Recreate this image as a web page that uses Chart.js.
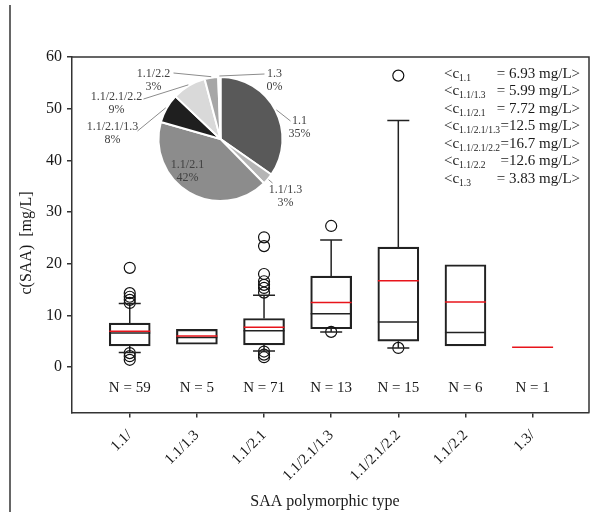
<!DOCTYPE html>
<html>
<head>
<meta charset="utf-8">
<script src="https://cdn.jsdelivr.net/npm/chart.js@4.4.1/dist/chart.umd.min.js"></script>
<style>
    body { margin: 0; background: #fff; }
    #wrap { position: relative; width: 601px; height: 521px; }
    #boxChart { position: absolute; left: 0; top: 0; }
    #pieChart { position: absolute; left: 70px; top: 60px; }
</style>
</head>
<body>
<div id="wrap">
    <canvas id="boxChart" width="601" height="521"></canvas>
    <canvas id="pieChart" width="250" height="150"></canvas>
</div>
<script>
// --- Data ---
const categories = ['1.1/', '1.1/1.3', '1.1/2.1', '1.1/2.1/1.3', '1.1/2.1/2.2', '1.1/2.2', '1.3/'];
const counts = [59, 5, 71, 13, 15, 6, 1];
const q1 = [4.1, 4.4, 4.3, 7.4, 5.0, 4.1, null];
const q3 = [8.5, 7.3, 9.4, 17.6, 23.2, 19.8, null];
const medians = [6.6, 5.7, 7.0, 10.3, 8.7, 6.7, null];
const means = [6.93, 5.99, 7.72, 12.5, 16.7, 12.6, 3.83];
const whiskerLow = [2.8, null, 3.1, 6.8, 3.7, null, null];
const whiskerHigh = [12.3, null, 13.9, 24.6, 47.7, null, null];
const outliers = [
    [19.2, 14.3, 13.6, 13.0, 12.4, 2.7, 2.1, 1.4],
    [],
    [25.1, 23.4, 18.0, 16.6, 15.9, 15.3, 14.4, 3.0, 2.4, 1.9],
    [27.3, 6.8],
    [56.4, 3.7],
    [],
    []
];
const yTicks = [0, 10, 20, 30, 40, 50, 60];
const piePercentLabels = ['35%', '3%', '42%', '8%', '9%', '3%', '0%'];

// --- Styling ---
const serif = "'Liberation Serif', 'Times New Roman', serif";
const ink = '#1a1a1a';
const boxWidth = 41;
const pieColors = ['#595959', '#b5b5b5', '#8c8c8c', '#1f1f1f', '#d9d9d9', '#a6a6a6', '#f2f2f2'];
// label centre and leader end, relative to pie centre (px)
const pieLabelPos = [[79, -12], [65, 57], [-33, 32], [-108, -6], [-104, -36], [-67, -59], [54, -59]];
const pieLeaderEnd = [[70, -18], [52, 44], null, [-83, -8], [-77, -40], [-47, -66], [44, -65]];

Chart.defaults.font.family = serif;
Chart.defaults.color = ink;

function pts(arr) {
    const out = [];
    arr.forEach((v, i) => { if (v !== null) out.push({ x: i, y: v }); });
    return out;
}

const boxes = [];
q1.forEach((v, i) => { if (v !== null) boxes.push({ x: i, y: [q1[i], q3[i]] }); });

const whiskers = [];
categories.forEach((c, i) => {
    if (whiskerHigh[i] !== null) whiskers.push({ x: i, y: q3[i] }, { x: i, y: whiskerHigh[i] }, { x: i, y: null });
    if (whiskerLow[i] !== null) whiskers.push({ x: i, y: q1[i] }, { x: i, y: whiskerLow[i] }, { x: i, y: null });
});
const caps = pts(whiskerHigh).concat(pts(whiskerLow));
const outlierPts = [];
outliers.forEach((list, i) => list.forEach(v => outlierPts.push({ x: i, y: v })));

// frame, titles, N labels and the mean legend
const decorPlugin = {
    id: 'decor',
    beforeDraw(chart) {
        const ctx = chart.ctx;
        ctx.save();
        ctx.fillStyle = '#fff';
        ctx.fillRect(0, 0, chart.width, chart.height);
        ctx.strokeStyle = '#333';
        ctx.lineWidth = 1.5;
        ctx.beginPath();
        ctx.moveTo(10, 5);
        ctx.lineTo(10, 512);
        ctx.stroke();
        ctx.restore();
    },
    afterDraw(chart) {
        const { ctx, chartArea: a, scales } = chart;
        ctx.save();
        ctx.strokeStyle = '#333';
        ctx.lineWidth = 1.5;
        ctx.beginPath();
        ctx.moveTo(a.left, a.top);
        ctx.lineTo(a.right, a.top);
        ctx.lineTo(a.right, a.bottom);
        ctx.stroke();

        ctx.fillStyle = ink;
        ctx.textAlign = 'center';
        ctx.textBaseline = 'middle';
        ctx.font = '16px ' + serif;
        ctx.fillText('SAA polymorphic type', 325, 502);
        ctx.save();
        ctx.translate(27, 243);
        ctx.rotate(-Math.PI / 2);
        ctx.fillText('c(SAA)  [mg/L]', 0, 0);
        ctx.restore();

        ctx.font = '15px ' + serif;
        const nY = scales.y.getPixelForValue(-4.1);
        counts.forEach((n, i) => {
            ctx.fillText('N = ' + n, scales.x.getPixelForValue(i), nY);
        });

        // <c_type = mean mg/L>
        const x0 = 444, xEnd = 580, y0 = 74, dy = 17.5;
        means.forEach((m, i) => {
            const y = y0 + i * dy;
            ctx.font = '15px ' + serif;
            ctx.textAlign = 'left';
            ctx.fillText('<c', x0, y);
            const w = ctx.measureText('<c').width;
            ctx.font = '9.5px ' + serif;
            ctx.fillText(categories[i].replace(/\/$/, ''), x0 + w, y + 4);
            ctx.font = '15px ' + serif;
            ctx.textAlign = 'right';
            ctx.fillText((m < 10 ? '= ' : '=') + m.toPrecision(3) + ' mg/L>', xEnd, y);
        });
        ctx.restore();
    }
};

new Chart(document.getElementById('boxChart'), {
    type: 'scatter',
    data: {
        datasets: [
            {
                type: 'scatter',
                data: pts(means),
                pointStyle: 'line',
                radius: boxWidth / 2,
                hoverRadius: boxWidth / 2,
                borderColor: '#e8141b',
                borderWidth: 1.5,
                order: 1
            },
            {
                type: 'scatter',
                data: pts(medians),
                pointStyle: 'line',
                radius: boxWidth / 2,
                hoverRadius: boxWidth / 2,
                borderColor: '#222',
                borderWidth: 1.5,
                order: 2
            },
            {
                type: 'scatter',
                data: caps,
                pointStyle: 'line',
                radius: 11,
                hoverRadius: 11,
                borderColor: '#222',
                borderWidth: 1.5,
                order: 3
            },
            {
                type: 'scatter',
                data: outlierPts,
                pointStyle: 'circle',
                radius: 5.5,
                hoverRadius: 5.5,
                backgroundColor: 'rgba(255,255,255,0)',
                borderColor: '#111',
                borderWidth: 1.2,
                order: 4
            },
            {
                type: 'line',
                data: whiskers,
                borderColor: '#222',
                borderWidth: 1.5,
                pointRadius: 0,
                spanGaps: false,
                order: 5
            },
            {
                type: 'bar',
                data: boxes,
                barThickness: boxWidth,
                backgroundColor: 'rgba(255,255,255,0)',
                borderColor: '#222',
                borderWidth: 1.5,
                borderSkipped: false,
                order: 6
            }
        ]
    },
    options: {
        responsive: false,
        animation: false,
        events: [],
        layout: { autoPadding: false, padding: { left: 15, top: 57, right: 12, bottom: 0 } },
        plugins: { legend: { display: false }, tooltip: { enabled: false } },
        scales: {
            x: {
                type: 'linear',
                min: -0.86,
                max: 6.84,
                offset: false,
                afterBuildTicks: s => { s.ticks = categories.map((c, i) => ({ value: i })); },
                afterFit: s => { s.height = 108.5; s.paddingLeft = 0; s.paddingRight = 0; },
                ticks: {
                    callback: v => categories[v],
                    minRotation: 45,
                    maxRotation: 45,
                    autoSkip: false,
                    padding: 9,
                    font: { size: 15 }
                },
                grid: { drawOnChartArea: false, offset: false, tickLength: 5, color: '#333', lineWidth: 1.5 },
                border: { color: '#333', width: 1.5 }
            },
            y: {
                min: -8.8,
                max: 60,
                afterBuildTicks: s => { s.ticks = yTicks.map(v => ({ value: v })); },
                afterFit: s => { s.width = 57; s.paddingTop = 0; s.paddingBottom = 0; },
                ticks: { padding: 5, font: { size: 16 } },
                grid: { drawOnChartArea: false, tickLength: 5, color: '#333', lineWidth: 1.5 },
                border: { color: '#333', width: 1.5 }
            }
        }
    },
    plugins: [decorPlugin]
});

// --- Inset pie ---
const pieLabelPlugin = {
    id: 'pieLabels',
    afterDraw(chart) {
        const ctx = chart.ctx;
        const arcs = chart.getDatasetMeta(0).data;
        ctx.save();
        ctx.font = '12px ' + serif;
        ctx.textAlign = 'center';
        ctx.textBaseline = 'middle';
        arcs.forEach((arc, i) => {
            const mid = (arc.startAngle + arc.endAngle) / 2;
            const end = pieLeaderEnd[i];
            if (end) {
                ctx.strokeStyle = '#8c8c8c';
                ctx.lineWidth = 1;
                ctx.beginPath();
                ctx.moveTo(arc.x + Math.cos(mid) * (arc.outerRadius + 1), arc.y + Math.sin(mid) * (arc.outerRadius + 1));
                ctx.lineTo(arc.x + end[0], arc.y + end[1]);
                ctx.stroke();
            }
            const lx = arc.x + pieLabelPos[i][0];
            const ly = arc.y + pieLabelPos[i][1];
            ctx.fillStyle = '#404040';
            ctx.fillText(categories[i].replace(/\/$/, ''), lx, ly - 6.5);
            ctx.fillText(piePercentLabels[i], lx, ly + 6.5);
        });
        ctx.restore();
    }
};

new Chart(document.getElementById('pieChart'), {
    type: 'pie',
    data: {
        labels: categories,
        datasets: [{
            data: counts,
            backgroundColor: pieColors,
            borderColor: '#fff',
            borderWidth: 2,
            hoverOffset: 0,
            hoverBorderWidth: 2
        }]
    },
    options: {
        responsive: false,
        animation: false,
        events: [],
        layout: { padding: { left: 87.5, right: 36.5, top: 16, bottom: 8 } },
        plugins: { legend: { display: false }, tooltip: { enabled: false } }
    },
    plugins: [pieLabelPlugin]
});
</script>
</body>
</html>
